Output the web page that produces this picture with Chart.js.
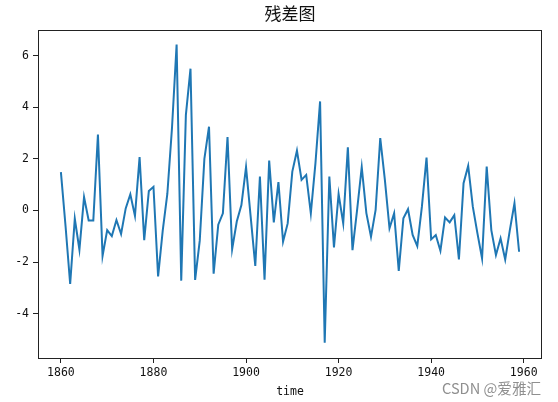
<!DOCTYPE html>
<html>
<head>
<meta charset="utf-8">
<script src="https://cdn.jsdelivr.net/npm/chart.js@4/dist/chart.umd.min.js"></script>
<style>
  html, body { margin: 0; padding: 0; background: #fff; }
  #wrap { position: relative; width: 558px; height: 402px; }
  #wm { position: absolute; left: 442px; top: 377px; line-height: 16px; font: 14.6px "Noto Sans CJK SC", "DejaVu Sans", sans-serif; color: #8f8f8f; white-space: nowrap; }
</style>
</head>
<body>
<div id="wrap">
  <canvas id="c" width="558" height="402"></canvas>
  <div id="wm">CSDN @爱雅汇</div>
</div>
<script>
const chartTitle = "残差图";
const xAxisTitle = "time";
const years = [
  1860,1861,1862,1863,1864,1865,1866,1867,1868,1869,
  1870,1871,1872,1873,1874,1875,1876,1877,1878,1879,
  1880,1881,1882,1883,1884,1885,1886,1887,1888,1889,
  1890,1891,1892,1893,1894,1895,1896,1897,1898,1899,
  1900,1901,1902,1903,1904,1905,1906,1907,1908,1909,
  1910,1911,1912,1913,1914,1915,1916,1917,1918,1919,
  1920,1921,1922,1923,1924,1925,1926,1927,1928,1929,
  1930,1931,1932,1933,1934,1935,1936,1937,1938,1939,
  1940,1941,1942,1943,1944,1945,1946,1947,1948,1949,
  1950,1951,1952,1953,1954,1955,1956,1957,1958,1959
];
const residuals = [
  1.49,-0.6,-2.85,-0.32,-1.52,0.52,-0.39,-0.39,2.95,-1.76,
  -0.76,-0.99,-0.37,-0.91,0.08,0.63,-0.21,2.07,-1.15,0.76,
  0.92,-2.56,-0.78,0.65,3.2,6.44,-2.72,3.7,5.5,-2.69,
  -1.17,2.0,3.25,-2.45,-0.55,-0.11,2.85,-1.5,-0.43,0.21,
  1.68,-0.24,-2.15,1.32,-2.68,1.94,-0.46,1.10,-1.21,-0.50,
  1.51,2.32,1.19,1.38,-0.11,1.84,4.23,-5.13,1.32,-1.43,
  0.64,-0.50,2.45,-1.54,0.02,1.68,-0.1,-1.02,0.02,2.81,
  1.19,-0.69,-0.11,-2.34,-0.30,0.05,-0.95,-1.38,0.15,2.05,
  -1.12,-0.95,-1.56,-0.27,-0.46,-0.18,-1.90,1.06,1.73,0.15,
  -0.89,-1.86,1.70,-0.76,-1.73,-1.08,-1.90,-0.76,0.28,-1.60
];
const xTicks = [1860, 1880, 1900, 1920, 1940, 1960];
const yTicks = [-4, -2, 0, 2, 4, 6];

const CJK = '"Noto Sans CJK SC", "DejaVu Sans", sans-serif';
const MONO = '"DejaVu Sans Mono", "Liberation Mono", monospace';

const framePlugin = {
  id: 'frame',
  afterDraw(chart) {
    const a = chart.chartArea, ctx = chart.ctx;
    ctx.save();
    ctx.strokeStyle = '#222';
    ctx.lineWidth = 1;
    ctx.strokeRect(Math.round(a.left) + 0.5, Math.round(a.top) + 0.5,
                   Math.round(a.right - a.left) - 1, Math.round(a.bottom - a.top));
    ctx.fillStyle = '#111';
    ctx.font = '17px ' + CJK;
    ctx.textAlign = 'center';
    ctx.textBaseline = 'middle';
    ctx.fillText(chartTitle, (a.left + a.right) / 2, 14);
    ctx.restore();
  }
};

new Chart(document.getElementById('c'), {
  type: 'line',
  data: {
    datasets: [{
      data: years.map((y, i) => ({ x: y, y: residuals[i] })),
      borderColor: '#1f77b4',
      borderWidth: 2,
      pointRadius: 0,
      tension: 0,
      fill: false
    }]
  },
  options: {
    responsive: false,
    animation: false,
    layout: { padding: { left: 0, right: 16, top: 30, bottom: 3 } },
    plugins: { legend: { display: false }, tooltip: { enabled: false }, title: { display: false } },
    scales: {
      x: {
        type: 'linear',
        min: 1855.05,
        max: 1963.95,
        afterBuildTicks(s) { s.ticks = xTicks.map(v => ({ value: v })); },
        afterFit(s) { s.height = 41; },
        grid: { drawOnChartArea: false, drawTicks: true, tickLength: 5, color: '#222' },
        border: { display: false },
        ticks: { color: '#111', font: { family: MONO, size: 11.5 }, padding: 3, maxRotation: 0, callback: v => String(v) },
        title: { display: true, text: xAxisTitle, color: '#111', font: { family: MONO, size: 11.5 }, padding: { top: 2, bottom: 0 } }
      },
      y: {
        type: 'linear',
        min: -5.72,
        max: 7.0,
        afterBuildTicks(s) { s.ticks = yTicks.map(v => ({ value: v })); },
        afterFit(s) { s.width = 38; },
        grid: { drawOnChartArea: false, drawTicks: true, tickLength: 5, color: '#222' },
        border: { display: false },
        ticks: { color: '#111', font: { family: MONO, size: 11.5 }, padding: 4, callback: v => String(v) }
      }
    }
  },
  plugins: [framePlugin]
});
</script>
</body>
</html>
